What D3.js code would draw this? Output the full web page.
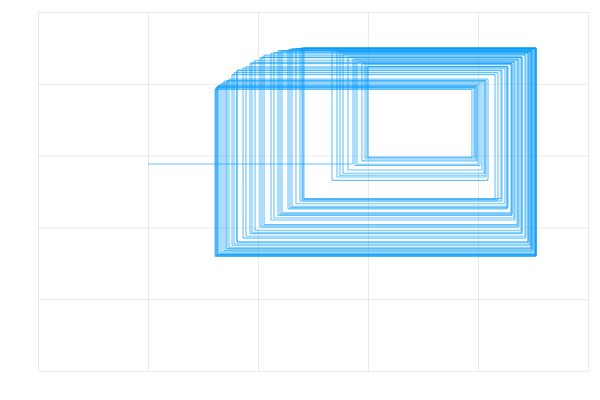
<!DOCTYPE html>
<html>
<head>
<meta charset="utf-8">
<script src="https://cdn.jsdelivr.net/npm/d3@7"></script>
<style>
  html, body { margin: 0; padding: 0; background: #ffffff; }
  svg { display: block; }
</style>
</head>
<body>
<div id="chart"></div>
<script>
// Grid tick values (no labels shown in the reference)
const xTicks = [0, 1, 2, 3, 4, 5];
const yTicks = [0, 1, 2, 3, 4, 5];

// Alternating-update trajectory: x changes, then y changes, then x, ...
// xSeq[k] and ySeq[k] are the k-th states (start state at index 0).
const xSeq = [1.0,
  2.864, 4.373, 2.018, 4.391, 1.973, 4.355, 2.055, 4.427, 1.891, 4.264,
  2.273, 4.500, 1.691, 4.064, 2.745, 4.455, 1.809, 4.218, 2.382, 4.527,
  1.618, 3.964, 3.000, 4.264, 2.309, 4.518, 1.636, 3.991, 2.945, 4.309,
  2.200, 4.482, 1.736, 4.091, 2.673, 4.482, 1.709, 4.055, 2.773, 4.436,
  1.864, 4.245, 2.345, 4.518, 1.636, 4.000, 2.900, 4.336, 2.118, 4.455,
  1.809, 4.209, 2.418, 4.527, 1.618, 3.973, 2.973, 4.300, 2.218, 4.491,
  1.673, 4.036, 2.818, 4.400, 1.945, 4.327, 2.145, 4.464, 1.782, 4.182,
  2.400, 4.527, 1.609, 3.945, 2.991, 4.273, 2.291, 4.509, 1.655, 4.018,
  2.882, 4.364, 2.036, 4.400, 1.927, 4.309, 2.182, 4.491, 1.718, 4.073,
  2.718, 4.473, 1.764, 4.155, 2.409, 4.527, 1.627, 3.982];

const ySeq = [2.883,
  4.345, 2.004, 4.364, 1.960, 4.327, 2.040, 4.400, 1.877, 4.237, 2.258,
  4.472, 1.678, 4.038, 2.727, 4.426, 1.797, 4.191, 2.366, 4.499, 1.606,
  3.939, 2.981, 4.237, 2.294, 4.490, 1.624, 3.965, 2.926, 4.281, 2.185,
  4.454, 1.724, 4.065, 2.655, 4.454, 1.696, 4.029, 2.755, 4.408, 1.851,
  4.219, 2.330, 4.490, 1.624, 3.975, 2.880, 4.309, 2.103, 4.426, 1.797,
  4.182, 2.401, 4.499, 1.606, 3.947, 2.953, 4.273, 2.203, 4.462, 1.660,
  4.011, 2.799, 4.372, 1.932, 4.299, 2.131, 4.436, 1.769, 4.155, 2.384,
  4.499, 1.597, 3.921, 2.971, 4.245, 2.276, 4.480, 1.642, 3.993, 2.862,
  4.336, 2.022, 4.372, 1.914, 4.281, 2.167, 4.462, 1.706, 4.047, 2.701,
  4.444, 1.751, 4.128, 2.393, 4.499, 1.616, 3.957, 2.935];

const W = 600, H = 400;
const svg = d3.select("#chart").append("svg")
  .attr("width", W).attr("height", H);

const x = d3.scaleLinear().domain([0, 5]).range([38, 588]);
const y = d3.scaleLinear().domain([0, 5]).range([371, 12]);

// Grid via axes with empty labels
const gx = svg.append("g")
  .attr("transform", `translate(0,${y(0)})`)
  .call(d3.axisBottom(x).tickValues(xTicks).tickSize(-(y(0) - y(5))).tickFormat(() => ""));
const gy = svg.append("g")
  .attr("transform", `translate(${x(0)},0)`)
  .call(d3.axisLeft(y).tickValues(yTicks).tickSize(-(x(5) - x(0))).tickFormat(() => ""));
[gx, gy].forEach(g => {
  g.select(".domain").remove();
  g.selectAll(".tick line").attr("stroke", "#000").attr("stroke-opacity", 0.08).attr("stroke-width", 1);
});

// Build the alternating path points
const pts = [[xSeq[0], ySeq[0]]];
for (let k = 1; k < xSeq.length; k++) {
  pts.push([xSeq[k], ySeq[k - 1]]);
  pts.push([xSeq[k], ySeq[k]]);
}
const segs = d3.pairs(pts);

const line = d3.line().x(d => x(d[0])).y(d => y(d[1]));
svg.append("g")
  .selectAll("path")
  .data(segs)
  .join("path")
  .attr("d", d => line(d))
  .attr("fill", "none")
  .attr("stroke", "#009AFA")
  .attr("stroke-opacity", 0.6)
  .attr("stroke-width", 1.1);
</script>
</body>
</html>
